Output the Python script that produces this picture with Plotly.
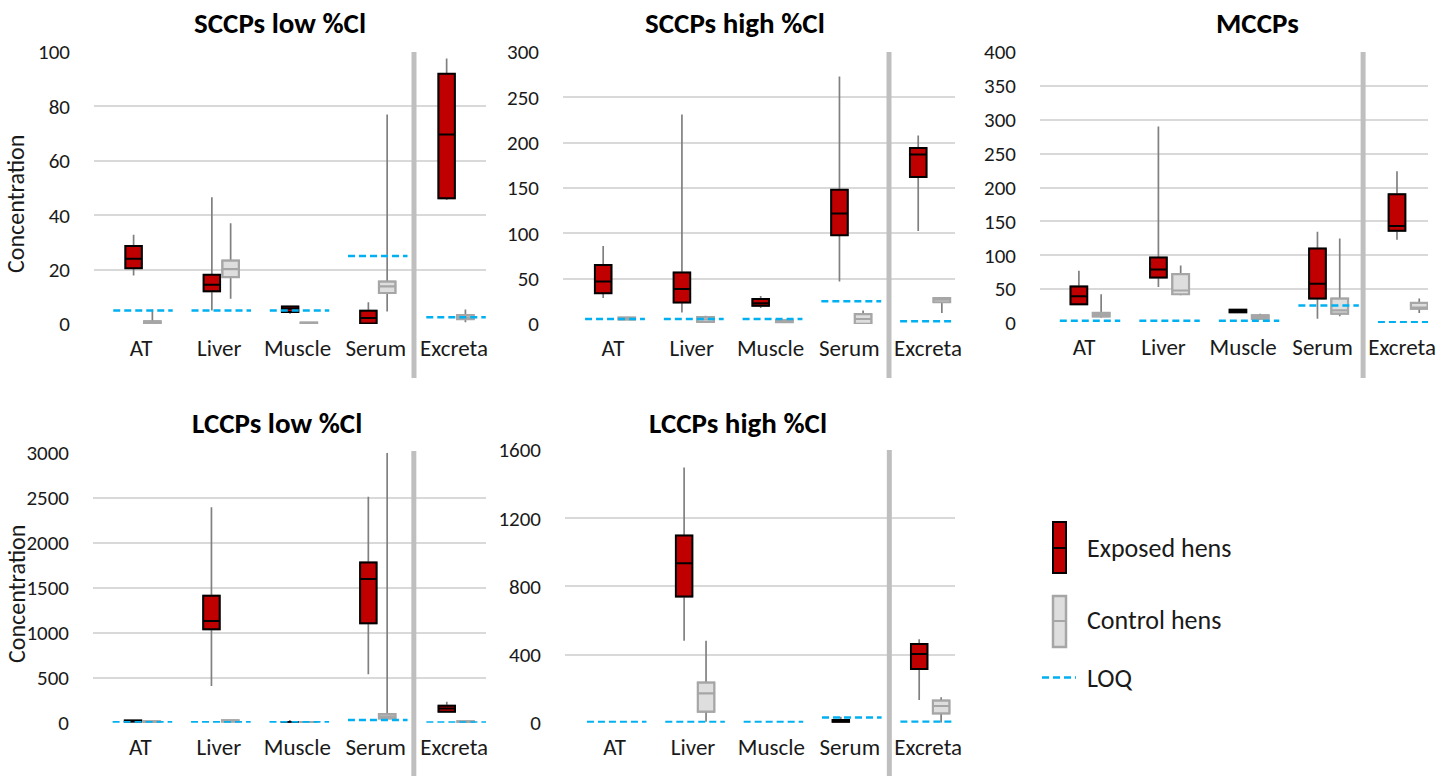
import plotly.graph_objects as go

W, H = 1437, 776
FONT = "Carlito, Calibri, Lato, sans-serif"

categories = ["AT", "Liver", "Muscle", "Serum", "Excreta"]
titles = ["SCCPs low %Cl", "SCCPs high %Cl", "MCCPs", "LCCPs low %Cl", "LCCPs high %Cl"]

# per category: [lower whisker, q1, median, q3, upper whisker]
sccp_low_exposed = [[17.8, 20.5, 24, 28.7, 32.8], [5, 12, 14.4, 18.1, 46.6], [3.8, 4.4, 5.6, 6.4, 6.7],
                    [0, 0.2, 2.2, 4.9, 8], [45.6, 46.2, 69.7, 92, 97.6]]
sccp_low_control = [[0.3, 0.3, 0.6, 1.0, 5.3], [9.3, 17.2, 20.2, 23.3, 37], [0.2, 0.2, 0.3, 0.5, 0.5],
                    [4.6, 11.4, 13.8, 15.6, 77], [0.6, 1.8, 2.4, 3.3, 5.3]]
sccp_low_loq = [5, 5, 5, 25, 2.5]

sccp_high_exposed = [[28.6, 34, 47, 65, 86], [12.8, 23.8, 38.5, 56.8, 231], [17.6, 20, 23, 27.5, 31],
                     [47, 98, 122, 148, 273], [102.6, 162, 187, 194, 208]]
sccp_high_control = [[4.5, 5, 6, 7, 7.5], [1.5, 2.2, 5, 7.7, 9], [1.5, 2, 3, 4, 4.5],
                     [0, 0.3, 5.5, 11, 15], [12, 24, 26.8, 28.6, 28.6]]
sccp_high_loq = [5.5, 5.5, 5.5, 25, 3]

mccp_exposed = [[27, 27.6, 39.5, 54, 77], [53, 67, 79, 96.7, 290], [14.8, 15.8, 17.8, 19.7, 21],
                [6.4, 36, 58, 110, 134.6], [123, 136, 143, 190, 224]]
mccp_control = [[7.9, 9.9, 12.8, 14.8, 42.4], [41, 42.4, 48, 72, 85], [4.9, 6.4, 8.9, 11.3, 13.8],
                [9.9, 13.8, 18.7, 36, 124.8], [14.8, 21.2, 22.7, 29.6, 36]]
mccp_loq = [3.5, 3.5, 3.5, 26, 1]

lccp_low_exposed = [[8, 10, 18, 25, 28], [407, 1037, 1130, 1411, 2393], [0, 1, 3, 8, 30],
                    [537, 1104, 1596, 1781, 2511], [115, 122, 159, 189, 233]]
lccp_low_control = [[5, 6, 10, 14, 16], [10, 12, 18, 25, 28], [3, 4, 5, 8, 10],
                    [48, 48, 67, 96, 3000], [5, 6, 10, 14, 16]]
lccp_low_loq = [5, 5, 5, 30, 2]

lccp_high_exposed = [None, [481, 740, 935, 1098, 1497], None, [0, 2, 8, 16, 35], [133, 315, 403, 462, 489]]
lccp_high_control = [None, [6, 65, 172, 235, 481], None, None, [0, 55, 98, 129, 149]]
lccp_high_loq = [4, 4, 4, 30, 6]

y_max = [100, 300, 400, 3000, 1600]
y_step = [20, 50, 50, 500, 400]

exposed_sets = [sccp_low_exposed, sccp_high_exposed, mccp_exposed, lccp_low_exposed, lccp_high_exposed]
control_sets = [sccp_low_control, sccp_high_control, mccp_control, lccp_low_control, lccp_high_control]
loq_sets = [sccp_low_loq, sccp_high_loq, mccp_loq, lccp_low_loq, lccp_high_loq]

# layout geometry (pixels)
plot_px = [  # left, right, top, bottom
    (94, 486, 52, 324), (563, 955, 52, 324), (1040, 1428, 52, 323),
    (93, 486, 452.7, 722.7), (565, 955, 450, 722.7)]
xranges = [(-0.626, 4.383), (-0.66, 4.317), (-0.629, 4.25), (-0.63, 4.38), (-0.66, 4.317)]
separators = [3.463, 3.479, 3.434, 3.46, 3.479]
sep_px = [(52, 378), (52, 378), (52, 378), (451, 776), (450, 776)]
offsets = [0.12, 0.15, 0.14, 0.12, 0.14]
label_shift = [-2, -2, -6, -2, -2]
title_px = [(280, 23), (735, 23), (1257, 23), (277, 423), (738, 423)]

RED = "#c00000"
CTRL_FILL = "#dedede"
CTRL_LINE = "#a6a6a6"
WHISK = "#808080"
LOQ_C = "#00b0f0"
TXT = "#1a1a1a"
BOXW = 0.21


def px2x(p):
    return p / W


def px2y(p):
    return 1 - p / H


fig = go.Figure()
shapes = []
annotations = []

for i in range(5):
    n = i + 1
    xa = "x" if n == 1 else f"x{n}"
    ya = "y" if n == 1 else f"y{n}"
    off = offsets[i]
    for grp, sign, fill, line, lw in [(exposed_sets[i], -1, RED, "#000000", 2),
                                       (control_sets[i], 1, CTRL_FILL, CTRL_LINE, 2.2)]:
        xs, lo, q1, md, q3, hi = [], [], [], [], [], []
        for c, st in enumerate(grp):
            if st is None:
                continue
            xs.append(c + sign * off)
            lo.append(st[0]); q1.append(st[1]); md.append(st[2]); q3.append(st[3]); hi.append(st[4])
        # whiskers
        fig.add_trace(go.Box(x=xs, lowerfence=lo, q1=q1, median=md, q3=q3, upperfence=hi,
                             width=BOXW, whiskerwidth=0, boxpoints=False,
                             line=dict(color=WHISK, width=1.7), fillcolor=fill,
                             xaxis=xa, yaxis=ya, showlegend=False, hoverinfo="skip"))
        # box body
        fig.add_trace(go.Box(x=xs, lowerfence=q1, q1=q1, median=md, q3=q3, upperfence=q3,
                             width=BOXW, whiskerwidth=0, boxpoints=False,
                             line=dict(color=line, width=lw), fillcolor=fill,
                             xaxis=xa, yaxis=ya, showlegend=False, hoverinfo="skip"))
    # LOQ dashed lines
    lx, ly = [], []
    for c, v in enumerate(loq_sets[i]):
        lx += [c - 0.38, c + 0.38, None]
        ly += [v, v, None]
    fig.add_trace(go.Scatter(x=lx, y=ly, mode="lines", line=dict(color=LOQ_C, width=2.5, dash="7px,4px"),
                             xaxis=xa, yaxis=ya, showlegend=False, hoverinfo="skip", cliponaxis=False))

    l, r, t, b = plot_px[i]
    fig.layout[f"xaxis{'' if n == 1 else n}"] = dict(
        domain=[px2x(l), px2x(r)], range=list(xranges[i]), anchor=ya, automargin=False,
        tickvals=list(range(5)), ticktext=categories, showgrid=False, zeroline=False,
        showline=False, ticks="", ticklabelstandoff=8, ticklabelshift=label_shift[i],
        ticklabeloverflow="allow", tickfont=dict(family=FONT, size=23, color=TXT))
    fig.layout[f"yaxis{'' if n == 1 else n}"] = dict(
        domain=[px2y(b), px2y(t)], range=[0, y_max[i]], anchor=xa, automargin=False,
        tickvals=list(range(0, y_max[i] + 1, y_step[i])), showgrid=True, gridcolor="#d9d9d9",
        gridwidth=1.5, zeroline=False, showline=False, ticks="", ticklabelstandoff=23,
        tickfont=dict(family=FONT, size=21, color=TXT))
    # separator
    shapes.append(dict(type="line", xref=xa, yref="paper", x0=separators[i], x1=separators[i],
                       y0=px2y(sep_px[i][1]), y1=px2y(sep_px[i][0]),
                       line=dict(color="#bfbfbf", width=5), layer="above"))
    annotations.append(dict(text=f"<b>{titles[i]}</b>", x=px2x(title_px[i][0]), y=px2y(title_px[i][1]),
                            xref="paper", yref="paper", showarrow=False, xanchor="center", yanchor="middle",
                            font=dict(family=FONT, size=29, color="#000000")))

for yc in (204, 594):
    annotations.append(dict(text="Concentration", x=px2x(16), y=px2y(yc), xref="paper", yref="paper",
                            showarrow=False, textangle=-90, xanchor="center", yanchor="middle",
                            font=dict(family=FONT, size=24, color=TXT)))

# legend (manual)
legend_items = ["Exposed hens", "Control hens", "LOQ"]
shapes.append(dict(type="rect", xref="paper", yref="paper", x0=px2x(1053), x1=px2x(1066),
                   y0=px2y(573), y1=px2y(522), fillcolor=RED, line=dict(color="#000", width=2)))
shapes.append(dict(type="line", xref="paper", yref="paper", x0=px2x(1053), x1=px2x(1066),
                   y0=px2y(548), y1=px2y(548), line=dict(color="#000", width=2)))
shapes.append(dict(type="rect", xref="paper", yref="paper", x0=px2x(1053), x1=px2x(1066),
                   y0=px2y(647), y1=px2y(596), fillcolor=CTRL_FILL, line=dict(color=CTRL_LINE, width=2.5)))
shapes.append(dict(type="line", xref="paper", yref="paper", x0=px2x(1053), x1=px2x(1066),
                   y0=px2y(621), y1=px2y(621), line=dict(color=CTRL_LINE, width=2)))
shapes.append(dict(type="line", xref="paper", yref="paper", x0=px2x(1042), x1=px2x(1076),
                   y0=px2y(677.5), y1=px2y(677.5), line=dict(color=LOQ_C, width=2.5, dash="7px,4px")))
for txt, yc in zip(legend_items, (548, 620, 678)):
    annotations.append(dict(text=txt, x=px2x(1085), y=px2y(yc), xref="paper", yref="paper",
                            showarrow=False, xanchor="left", yanchor="middle",
                            font=dict(family=FONT, size=26, color=TXT)))

fig.update_layout(width=W, height=H, margin=dict(l=0, r=0, t=0, b=0, autoexpand=False),
                  paper_bgcolor="white", plot_bgcolor="white", boxmode="overlay",
                  shapes=shapes, annotations=annotations, showlegend=False)

fig.write_html("out.html", config={"displayModeBar": False},
               post_script="document.body.style.margin='0';document.body.style.overflow='hidden';")
